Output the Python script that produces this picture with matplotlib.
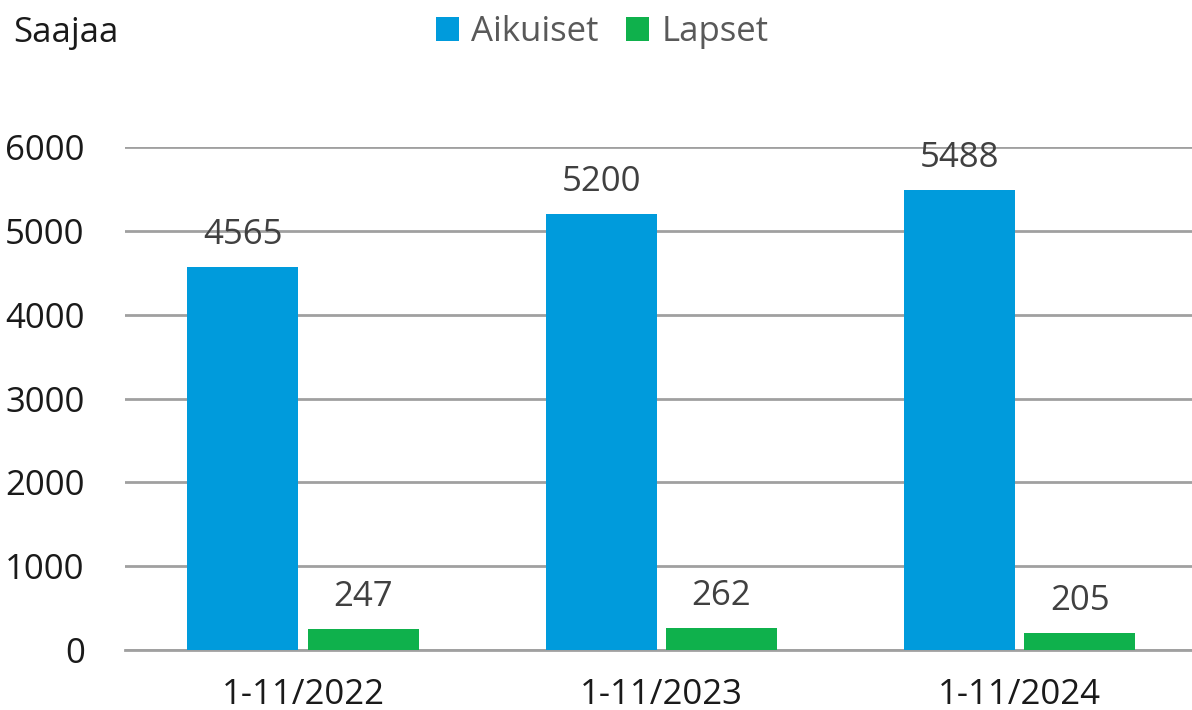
import matplotlib.pyplot as plt
import numpy as np

# data
categories = ["1-11/2022", "1-11/2023", "1-11/2024"]
aikuiset = [4565, 5200, 5488]
lapset = [247, 262, 205]
yticks = [0, 1000, 2000, 3000, 4000, 5000, 6000]

blue = "#009BDC"
green = "#0FB14C"
grid_col = "#A0A0A0"
fs = 25

plt.rcParams['font.family'] = ['Open Sans', 'DejaVu Sans']

fig = plt.figure(figsize=(11.92, 7.10), dpi=100)
ax = fig.add_axes([125 / 1192, 1 - 650 / 710, 1 - 125 / 1192, (650 - 147) / 710])

x = np.arange(len(categories))
w = 0.31
off = 0.168
b1 = ax.bar(x - off, aikuiset, w, color=blue, label="Aikuiset", zorder=3)
b2 = ax.bar(x + off, lapset, w, color=green, label="Lapset", zorder=3)

for bars, vals in ((b1, aikuiset), (b2, lapset)):
    for b, v in zip(bars, vals):
        ax.annotate(str(v), (b.get_x() + b.get_width() / 2, v),
                    xytext=(0, 23), textcoords="offset points",
                    ha="center", va="center", fontsize=fs, color="#404040",
                    annotation_clip=False)

ax.set_xlim(-0.497, 2.4815)
ax.set_ylim(0, 6000)
ax.set_yticks(yticks)
ax.set_yticklabels([str(t) for t in yticks], fontsize=fs, color="#1a1a1a")
ax.set_xticks(x)
ax.set_xticklabels(categories, fontsize=fs, color="#1a1a1a")
ax.tick_params(axis="y", length=0, pad=29)
ax.tick_params(axis="x", length=0, pad=20)

ax.grid(axis="y", color=grid_col, linewidth=2, zorder=0)
for s in ["top", "right", "left"]:
    ax.spines[s].set_visible(False)
ax.spines["bottom"].set_color(grid_col)
ax.spines["bottom"].set_linewidth(2)

fig.text(13 / 1192, 1 - 42 / 710, "Saajaa", fontsize=fs, color="#1a1a1a",
         ha="left", va="baseline")

fig.legend(handles=[b1, b2], labels=["Aikuiset", "Lapset"], loc="center",
           bbox_to_anchor=(602 / 1192, 1 - 32 / 710), ncol=2, frameon=False,
           fontsize=fs, labelcolor="#595959", handlelength=0.66, handleheight=0.66,
           handletextpad=0.35, columnspacing=0.8)

fig.savefig("out.png", dpi=100)
